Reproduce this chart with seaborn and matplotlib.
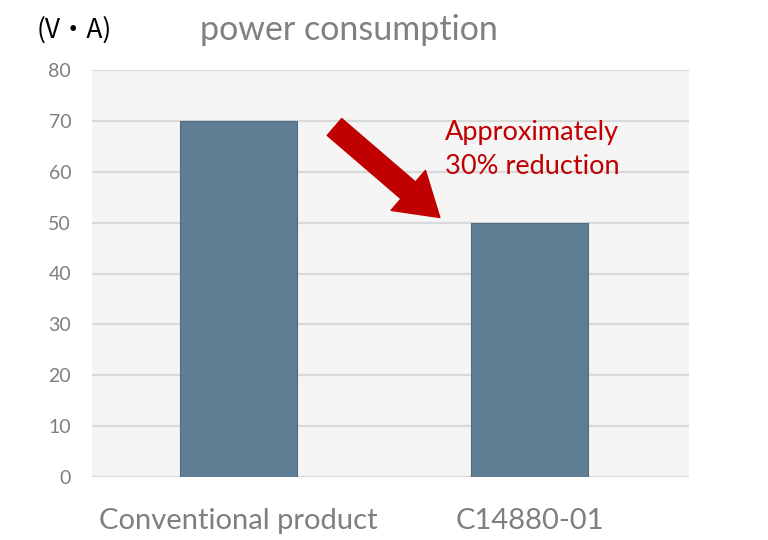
import matplotlib
matplotlib.use("Agg")
import matplotlib.pyplot as plt
import seaborn as sns
import pandas as pd

categories = ["Conventional product", "C14880-01"]
values = [70, 50]
yticks = [0, 10, 20, 30, 40, 50, 60, 70, 80]

sns.set_theme(style="white")
plt.rcParams['font.family'] = ['Lato', 'Noto Sans CJK JP', 'DejaVu Sans']

df = pd.DataFrame({"cat": categories, "val": values})

fig = plt.figure(figsize=(7.68, 5.40), dpi=100)
ax = fig.add_axes([92/768, 1-477/540, 597/768, 407/540])
ax.set_facecolor("#f5f5f5")

sns.barplot(data=df, x="cat", y="val", ax=ax, color="#5f7d93", width=0.4,
            edgecolor="#4f6b80", linewidth=0.8, saturation=1, zorder=3)

ax.set_ylim(0, 80)
ax.set_xlim(-0.503, 1.548)
ax.set_yticks(yticks)
ax.set_yticklabels([str(t) for t in yticks])
ax.grid(axis="y", color="#d9d9d9", linewidth=1.6, zorder=0)
ax.set_axisbelow(True)
for s in ax.spines.values():
    s.set_visible(False)
ax.tick_params(axis="y", length=0, pad=15, labelsize=14, labelcolor="#7f7f7f")
ax.tick_params(axis="x", length=0, pad=22, labelsize=21, labelcolor="#7f7f7f")
ax.set_xlabel("")
ax.set_ylabel("")

fig.text(37/768, 1-30/540, "(V・A)", fontsize=19, color="black", va="center", ha="left",
         family=['Noto Sans CJK JP', 'DejaVu Sans'])
fig.text(200/768, 1-30/540, "power consumption", fontsize=24.5, color="#808080", va="center", ha="left")

ax.annotate("", xy=(0.692, 51.0), xytext=(0.33, 68.8),
            arrowprops=dict(arrowstyle="simple,head_width=3.8,head_length=3.0,tail_width=1.6",
                            mutation_scale=10, color="#c00000", shrinkA=0, shrinkB=0), zorder=5)
ax.text(0.71, 64.4, "Approximately\n30% reduction", fontsize=19.5, color="#c00000",
        va="center", ha="left", linespacing=1.42, zorder=5)

fig.savefig("out.png", dpi=100)
